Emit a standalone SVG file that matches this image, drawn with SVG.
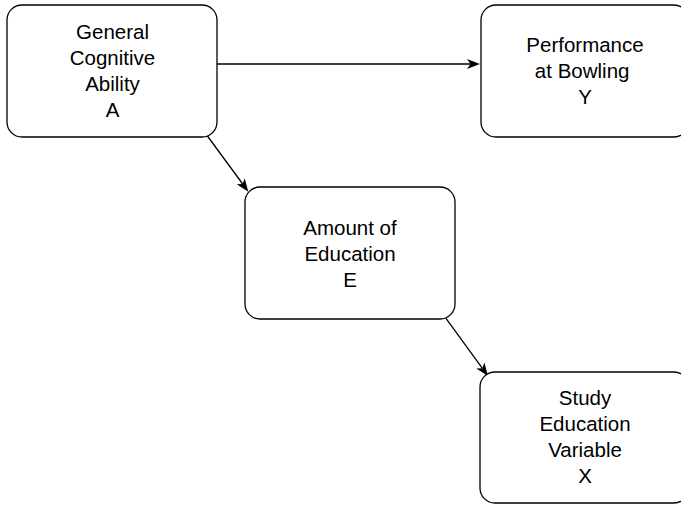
<svg xmlns="http://www.w3.org/2000/svg" width="681" height="505" viewBox="0 0 681 505">
  <style>
    .box { fill: #ffffff; stroke: #000000; stroke-width: 1.3; }
    .lbl { font-family: "Liberation Sans", Arial, Helvetica, sans-serif; font-size: 20.5px; fill: #000000; text-anchor: middle; }
    .edge { fill: none; stroke: #000000; stroke-width: 1.3; marker-end: url(#arrow); }
  </style>
  <defs>
    <marker id="arrow" viewBox="0 0 14 10" refX="3.5" refY="5" markerWidth="14" markerHeight="10" markerUnits="userSpaceOnUse" orient="auto">
      <path d="M13,5 L0,0 L3.5,5 L0,10 Z" fill="#000000"/>
    </marker>
  </defs>
  <rect width="681" height="505" fill="#ffffff"/>

  <g id="connectors">
    <path class="edge" d="M217,64 L470.5,64"/>
    <path class="edge" d="M206.7,135 L242.7,184"/>
    <path class="edge" d="M446,318.3 L482.4,368.3"/>
  </g>

  <g id="node-A">
    <rect class="box" x="7" y="5" width="210" height="132" rx="15" ry="15"/>
    <text class="lbl" x="112.5" y="39">General</text>
    <text class="lbl" x="112.5" y="65">Cognitive</text>
    <text class="lbl" x="112.5" y="91">Ability</text>
    <text class="lbl" x="112.5" y="117">A</text>
  </g>

  <g id="node-Y">
    <rect class="box" x="481" y="5" width="208" height="132" rx="15" ry="15"/>
    <text class="lbl" x="585" y="52">Performance</text>
    <text class="lbl" x="585" y="78" xml:space="preserve">at Bowling </text>
    <text class="lbl" x="585" y="104">Y</text>
  </g>

  <g id="node-E">
    <rect class="box" x="245" y="187" width="210" height="132" rx="15" ry="15"/>
    <text class="lbl" x="350" y="235">Amount of</text>
    <text class="lbl" x="350" y="261">Education</text>
    <text class="lbl" x="350" y="287">E</text>
  </g>

  <g id="node-X">
    <rect class="box" x="480" y="372" width="209" height="131" rx="15" ry="15"/>
    <text class="lbl" x="585" y="405">Study</text>
    <text class="lbl" x="585" y="431">Education</text>
    <text class="lbl" x="585" y="457">Variable</text>
    <text class="lbl" x="585" y="483">X</text>
  </g>
</svg>
